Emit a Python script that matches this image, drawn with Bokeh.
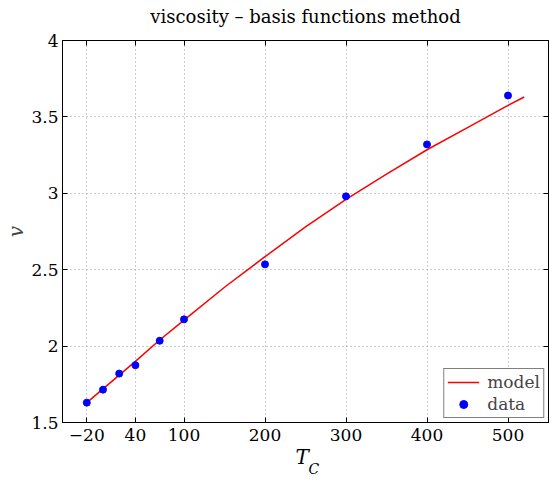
from bokeh.plotting import figure
from bokeh.models import Range1d, FixedTicker, LinearAxis, Title, CustomLabelingPolicy
from bokeh.embed import file_html
from bokeh.resources import INLINE

# data points
T_data = [-20, 0, 20, 40, 70, 100, 200, 300, 400, 500]
v_data = [1.63, 1.715, 1.82, 1.875, 2.035, 2.175, 2.535, 2.98, 3.32, 3.64]

# model curve
T_model = [-20, 0, 20, 40, 70, 100, 150, 200, 250, 300, 350, 400, 450, 500, 520]
v_model = [1.63, 1.72, 1.81, 1.90, 2.04, 2.17, 2.385, 2.585, 2.78, 2.96, 3.125, 3.285, 3.43, 3.575, 3.63]

xticks = [-20, 40, 100, 200, 300, 400, 500]
xtick_labels = ["\u221220", "40", "100", "200", "300", "400", "500"]
yticks = [1.5, 2, 2.5, 3, 3.5, 4]
ytick_labels = ["1.5", "2", "2.5", "3", "3.5", "4"]

FONT = "DejaVu Serif"

p = figure(width=552, height=481, output_backend="svg", toolbar_location=None,
           x_range=Range1d(-50, 550), y_range=Range1d(1.5, 4),
           min_border_left=62, min_border_right=2, min_border_top=40, min_border_bottom=59)

p.title.text = "viscosity \u2013 basis functions method"
p.title.text_font = FONT
p.title.text_font_size = "18px"
p.title.text_font_style = "normal"
p.title.align = "center"
p.title.text_color = "black"
p.title.standoff = 4

p.outline_line_color = "black"
p.outline_line_width = 1

p.line(T_model, v_model, line_color="red", line_width=1.5, legend_label="model")
p.scatter(T_data, v_data, size=7, fill_color="blue", line_color="blue", legend_label="data")

for ax in (p.xaxis[0], p.yaxis[0]):
    ax.major_tick_in = 5
    ax.major_tick_out = 0
    ax.minor_tick_line_color = None
    ax.axis_line_color = "black"
    ax.major_tick_line_color = "black"
    ax.major_label_text_font = FONT
    ax.major_label_text_font_size = "17px"
    ax.major_label_text_color = "black"

p.xaxis[0].ticker = FixedTicker(ticks=xticks)
p.xaxis[0].major_label_overrides = {t: l for t, l in zip(xticks, xtick_labels)}
p.xaxis[0].major_label_standoff = 6
p.yaxis[0].ticker = FixedTicker(ticks=yticks)
p.yaxis[0].major_label_overrides = {t: l for t, l in zip(yticks, ytick_labels)}
p.yaxis[0].major_label_standoff = 4
p.yaxis[0].axis_label = "v"
p.yaxis[0].axis_label_text_font = FONT
p.yaxis[0].axis_label_text_font_style = "italic"
p.yaxis[0].axis_label_text_font_size = "20px"
p.yaxis[0].axis_label_standoff = 0

# box ticks on top and right (no labels)
no_labels = "return new Set()"
top = LinearAxis(ticker=FixedTicker(ticks=xticks),
                 major_label_policy=CustomLabelingPolicy(code=no_labels),
                 major_label_text_font_size="1px",
                 major_label_standoff=8, major_tick_in=5, major_tick_out=0,
                 minor_tick_line_color=None, axis_line_color="black")
right = LinearAxis(ticker=FixedTicker(ticks=yticks),
                   major_label_policy=CustomLabelingPolicy(code=no_labels),
                   major_label_text_font_size="1px",
                   major_label_standoff=0, major_tick_in=5, major_tick_out=0,
                   minor_tick_line_color=None, axis_line_color="black")
p.add_layout(top, "above")
p.add_layout(right, "right")

p.xgrid.ticker = FixedTicker(ticks=xticks)
p.ygrid.ticker = FixedTicker(ticks=yticks)
for g in (p.xgrid[0], p.ygrid[0]):
    g.grid_line_color = "#999999"
    g.grid_line_dash = "1 3"
    g.grid_line_width = 1

# x axis label T_C as two titles below
p.add_layout(Title(text="T", text_font=FONT, text_font_style="italic",
                   text_font_size="20px", align="left", offset=233, standoff=-2,
                   text_color="black"), "below")
p.add_layout(Title(text="C", text_font=FONT, text_font_style="italic",
                   text_font_size="14px", align="left", offset=246, standoff=-18,
                   vertical_align="bottom", text_color="black"), "below")

lg = p.legend[0]
lg.location = "bottom_right"
lg.margin = 4
lg.padding = 3
lg.spacing = 2
lg.glyph_width = 32
lg.glyph_height = 20
lg.label_standoff = 8
lg.label_text_font = FONT
lg.label_text_font_size = "17px"
lg.border_line_color = "black"
lg.border_line_width = 1
lg.background_fill_alpha = 1

open("out.html", "w").write(file_html(p, INLINE))
